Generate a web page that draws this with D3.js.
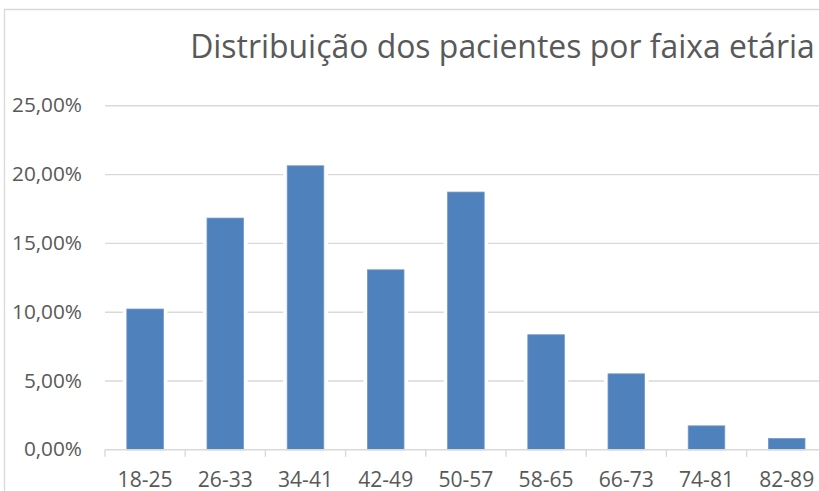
<!DOCTYPE html>
<html><head><meta charset="utf-8">
<script src="https://cdn.jsdelivr.net/npm/d3@7"></script>
<style>html,body{margin:0;padding:0;background:#fff;overflow:hidden}</style>
</head><body>
<svg id="chart" width="819" height="491"></svg>
<script>
const categories = ["18-25","26-33","34-41","42-49","50-57","58-65","66-73","74-81","82-89"];
const values = [0.1023, 0.1684, 0.2064, 0.1308, 0.1873, 0.0836, 0.0552, 0.0174, 0.0082];
const yTicks = [0, 0.05, 0.10, 0.15, 0.20, 0.25];
const title = "Distribuição dos pacientes por faixa etária";

const svg = d3.select("#chart");
const fontFamily = "'Open Sans', 'Noto Sans', sans-serif";
const textColor = "#595959";
const gridColor = "#d9d9d9";
const barColor = "#4f81bd";

const plotLeft = 105, plotRight = 826.8, plotTop = 105.8, plotBottom = 449.8;
const x = d3.scaleBand().domain(categories).range([plotLeft, plotRight]).paddingInner(0.544).paddingOuter(0.272);
const y = d3.scaleLinear().domain([0, 0.25]).range([plotBottom, plotTop]);
const locale = d3.formatLocale({decimal: ",", thousands: ".", grouping: [3], currency: ["R$", ""]});
const fmt = locale.format(".2%");

// chart border
svg.append("path").attr("d", "M4.5,491 V9.5 H819").attr("fill", "none").attr("stroke", gridColor).attr("stroke-width", 1.3);

// fit helper
function fitSize(str, targetWidth, base) {
  const t = svg.append("text").attr("font-family", fontFamily).attr("font-size", base).text(str);
  const w = t.node().getComputedTextLength();
  t.remove();
  return base * targetWidth / w;
}

// gridlines
svg.append("g").selectAll("line").data(yTicks.filter(d => d > 0)).join("line")
  .attr("x1", plotLeft).attr("x2", 819)
  .attr("y1", d => y(d)).attr("y2", d => y(d))
  .attr("stroke", gridColor).attr("stroke-width", 1.4);

// white halos behind bars (gridline gaps)
svg.append("g").selectAll("rect").data(values).join("rect")
  .attr("x", (d, i) => x(categories[i]) - 4)
  .attr("width", x.bandwidth() + 8)
  .attr("y", d => y(d) - 2)
  .attr("height", d => plotBottom - y(d) + 2)
  .attr("fill", "#fff");

// bars
svg.append("g").selectAll("rect").data(values).join("rect")
  .attr("x", (d, i) => x(categories[i]))
  .attr("width", x.bandwidth())
  .attr("y", d => y(d))
  .attr("height", d => plotBottom - y(d))
  .attr("fill", barColor)
  .attr("stroke", "#6f98cc").attr("stroke-width", 0.8);

// x axis
const xg = svg.append("g").attr("transform", `translate(0,${plotBottom})`);
xg.append("line").attr("x1", plotLeft).attr("x2", 819).attr("y1", 0).attr("y2", 0).attr("stroke", gridColor).attr("stroke-width", 1.4);
const step = x.step();
xg.selectAll("line.tick").data(d3.range(categories.length + 1)).join("line").attr("class", "tick")
  .attr("x1", i => plotLeft + i * step).attr("x2", i => plotLeft + i * step)
  .attr("y1", 0).attr("y2", 7).attr("stroke", gridColor).attr("stroke-width", 1.4);

const xSize = fitSize("18-25", 55, 20);
xg.selectAll("text").data(categories).join("text")
  .attr("x", d => x(d) + x.bandwidth() / 2)
  .attr("y", 37.5)
  .attr("text-anchor", "middle")
  .attr("font-family", fontFamily).attr("font-size", xSize).attr("fill", textColor)
  .text(d => d);

// y labels
const ySize = fitSize("25,00%", 70, 20);
svg.append("g").selectAll("text").data(yTicks).join("text")
  .attr("x", 82).attr("y", d => y(d) + 1)
  .attr("text-anchor", "end")
  .attr("dominant-baseline", "middle")
  .attr("font-family", fontFamily).attr("font-size", ySize).attr("fill", textColor)
  .text(d => fmt(d));

// title
const tSize = fitSize(title, 625, 28);
svg.append("text").attr("x", 502.5).attr("y", 58.3)
  .attr("text-anchor", "middle")
  .attr("font-family", fontFamily).attr("font-size", tSize).attr("fill", textColor)
  .text(title);
</script>
</body></html>
